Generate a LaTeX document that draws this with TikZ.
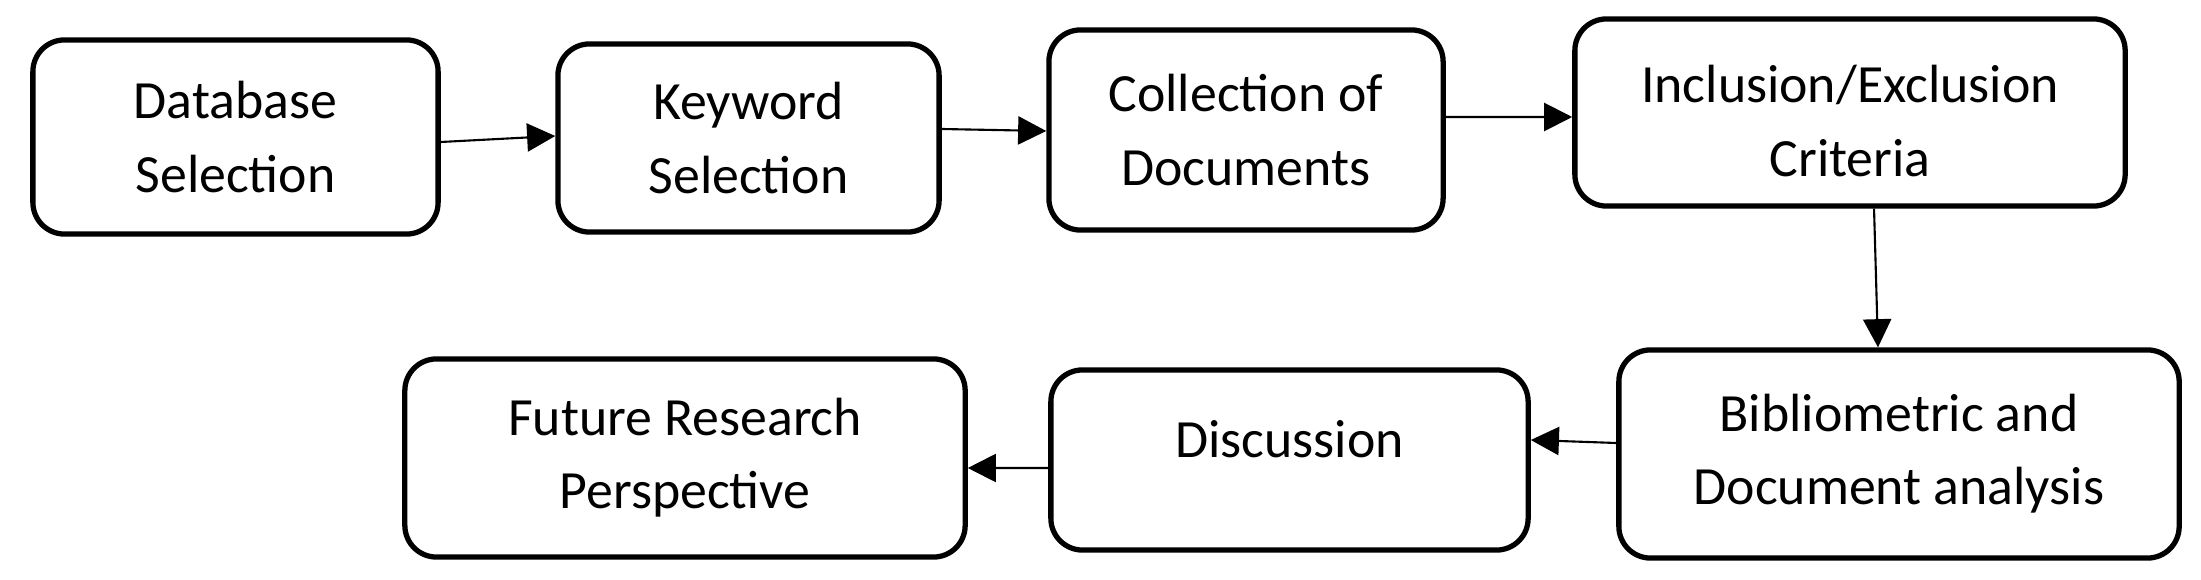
\documentclass[tikz,border=0pt]{standalone}
\usepackage{fontspec}
\setmainfont{Carlito}
\usetikzlibrary{arrows.meta}
\begin{document}
\begin{tikzpicture}[x=0.01cm,y=-0.01cm,
  box/.style={draw=black,line width=1.5pt,rounded corners=9pt,rectangle,align=center,
    font=\fontsize{15.3}{20.8}\selectfont,inner sep=0pt},
  txt/.style={align=center,font=\fontsize{15.3}{20.8}\selectfont,inner sep=0pt},
  arr/.style={draw=black,line width=0.6pt,-{Triangle[length=8pt,width=8pt]}}]
\useasboundingbox (0,0) rectangle (2201,579);
\node[box,minimum width=4.05cm,minimum height=1.94cm] (b1) at (235.5,137) {Database\\Selection};
\node[box,minimum width=3.81cm,minimum height=1.88cm] (b2) at (748.5,138) {Keyword\\Selection};
\node[box,minimum width=3.94cm,minimum height=2.00cm] (b3) at (1246,130) {Collection of\\Documents};
\node[box,minimum width=5.50cm,minimum height=1.87cm,
  label={[txt,yshift=-0.085cm]center:Inclusion/Exclusion\\Criteria}] (b4) at (1850,112.5) {};
\node[box,minimum width=5.60cm,minimum height=2.08cm] (b5) at (1899,454) {Bibliometric and\\Document analysis};
\node[box,minimum width=4.77cm,minimum height=1.80cm,
  label={[txt,yshift=0.21cm]center:Discussion}] (b6) at (1289.5,460) {};
\node[box,minimum width=5.60cm,minimum height=1.98cm] (b7) at (685,458) {Future Research\\Perspective};
\draw[arr] ([yshift=-0.05cm]b1.east) -- ([yshift=0.02cm]b2.west);
\draw[arr] ([yshift=0.09cm]b2.east) -- ([yshift=-0.01cm]b3.west);
\draw[arr] ([yshift=0.13cm]b3.east) -- ([yshift=-0.045cm]b4.west);
\draw[arr] ([xshift=0.24cm]b4.south) -- ([xshift=-0.21cm]b5.north);
\draw[arr] ([yshift=0.11cm]b5.west) -- ([yshift=0.20cm]b6.east);
\draw[arr] ([yshift=-0.08cm]b6.west) -- ([yshift=-0.10cm]b7.east);
\end{tikzpicture}
\end{document}
